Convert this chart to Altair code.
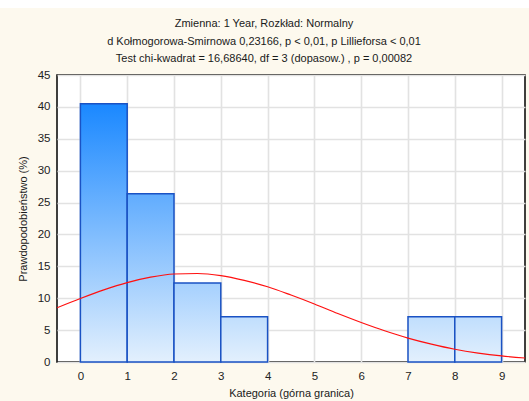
import altair as alt
import pandas as pd

# Histogram classes (upper bound labels) and percentage per class
bin_lo = [0, 1, 2, 3, 4, 5, 6, 7, 8]
bin_hi = [1, 2, 3, 4, 5, 6, 7, 8, 9]
pct = [40.5, 26.4, 12.4, 7.1, 0, 0, 0, 7.1, 7.1]

# Fitted normal curve, expected percentage per class
curve_x = [-0.5, 0, 0.5, 1, 1.5, 2, 2.5, 3, 3.5, 4, 4.5, 5, 5.5, 6, 6.5,
           7, 7.5, 8, 8.5, 9, 9.5]
curve_y = [8.5, 9.95, 11.3, 12.45, 13.3, 13.8, 13.88, 13.55, 12.8, 11.8, 10.5,
           9.1, 7.6, 6.2, 4.9, 3.75, 2.8, 2.0, 1.4, 0.95, 0.63]

x_ticks = list(range(0, 10))
y_ticks = list(range(0, 50, 5))

title_lines = [
    "Zmienna:  1 Year, Rozkład: Normalny",
    "d Kołmogorowa-Smirnowa 0,23166, p < 0,01, p Lillieforsa < 0,01",
    "Test chi-kwadrat = 16,68640, df = 3 (dopasow.) , p = 0,00082",
]

FONT = "Liberation Sans"
W, H = 468, 287
PAD_L, PAD_T = 57, 75

bars = pd.DataFrame({"lo": bin_lo, "hi": bin_hi, "pct": pct, "base": [0] * len(pct)})
curve = pd.DataFrame({"x": curve_x, "y": curve_y})

x_scale = alt.Scale(domain=[-0.5, 9.5], nice=False, zero=False)
y_scale = alt.Scale(domain=[0, 45], nice=False)

x_axis = alt.Axis(values=x_ticks, title="Kategoria (górna granica)",
                  grid=True, format="d", labelOverlap=False, tickCount=10)
y_axis = alt.Axis(values=y_ticks, title="Prawdopodobieństwo (%)",
                  grid=True, format="d", labelOverlap=False, tickCount=10)

LIGHT = (227, 240, 253)
DARK = (26, 136, 255)
top_val = max(pct)


def shade(v):
    t = v / top_val
    rgb = [round(l + (d - l) * t) for l, d in zip(LIGHT, DARK)]
    return "#%02x%02x%02x" % tuple(rgb)


# white strip at the very top of the page
top_strip = alt.Chart(bars).mark_rect(color="white").encode(
    x=alt.value(-PAD_L), x2=alt.value(529 - PAD_L),
    y=alt.value(-PAD_T), y2=alt.value(8 - PAD_T),
)

# three header lines above the plot
header_layers = []
for i, txt in enumerate(title_lines):
    header_layers.append(
        alt.Chart(bars).transform_filter(alt.datum.lo == 0)
        .mark_text(text=txt, font=FONT, fontSize=11, color="#1a1a1a",
                   align="center", baseline="alphabetic")
        .encode(x=alt.value(264 - PAD_L), y=alt.value(27 + 17.5 * i - PAD_T))
    )

axes = alt.Chart(bars).mark_point(opacity=0).encode(
    x=alt.X("lo:Q", scale=x_scale, axis=x_axis),
    y=alt.Y("pct:Q", scale=y_scale, axis=y_axis),
)

bar_layers = []
for lo, v in zip(bin_lo, pct):
    if v <= 0:
        continue
    grad = alt.LinearGradient(
        gradient="linear",
        stops=[alt.GradientStop(color=shade(v), offset=0),
               alt.GradientStop(color=shade(0), offset=1)],
        x1=0, x2=0, y1=0, y2=1,
    )
    bar_layers.append(
        alt.Chart(bars).transform_filter(alt.datum.lo == lo)
        .mark_rect(fill=grad, stroke="#1a52c4", strokeWidth=1.5)
        .encode(
            x=alt.X("lo:Q", scale=x_scale, axis=x_axis),
            x2="hi:Q",
            y=alt.Y("pct:Q", scale=y_scale, axis=y_axis),
            y2="base:Q",
        )
    )

line = alt.Chart(curve).mark_line(color="#ff1010", strokeWidth=1.2,
                                  interpolate="monotone", clip=True).encode(
    x=alt.X("x:Q", scale=x_scale, axis=x_axis),
    y=alt.Y("y:Q", scale=y_scale, axis=y_axis),
)

chart = alt.layer(top_strip, *header_layers, axes, *bar_layers, line).properties(
    width=W, height=H,
    autosize=alt.AutoSizeParams(type="none"),
    padding={"left": PAD_L, "top": PAD_T, "right": 529 - PAD_L - W,
             "bottom": 401 - PAD_T - H},
).configure(
    background="#fdf9ee",
).configure_view(
    fill="white", stroke="black", strokeWidth=1.5,
).configure_axis(
    domain=False, ticks=False, gridColor="#e2e2e2", gridWidth=1.6,
    labelFont=FONT, labelFontSize=11.5, labelColor="#222222",
    titleFont=FONT, titleFontSize=11, titleFontWeight="normal",
    titleColor="#1a1a1a",
).configure_axisX(
    labelPadding=8, titlePadding=6,
).configure_axisY(
    labelPadding=7, titlePadding=9,
)

chart.save("out.html", embed_options={"renderer": "svg", "actions": False})
